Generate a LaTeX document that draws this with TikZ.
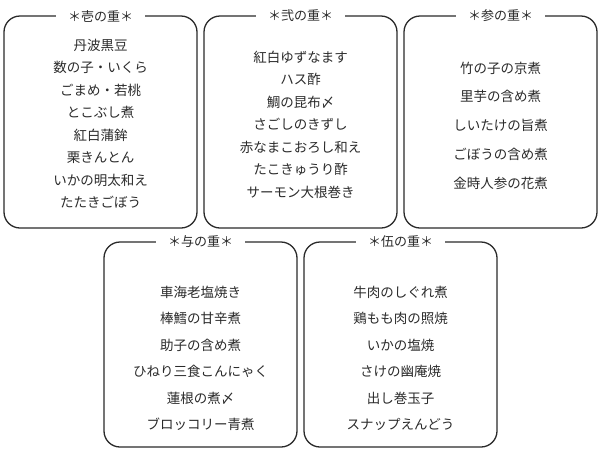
\documentclass[tikz,border=0pt]{standalone}
\usepackage{fontspec}
\newfontfamily\cjk{Noto Sans CJK JP}
\definecolor{ink}{HTML}{2A2A2A}
\begin{document}
\begin{tikzpicture}[x=1pt,y=-1pt,
  box/.style={draw=ink,line width=1.3pt,rounded corners=16pt},
  ttl/.style={fill=white,inner xsep=12pt,inner ysep=1pt,text=ink,font=\cjk\fontsize{13}{15}\selectfont},
  itm/.style={text=ink,font=\cjk\fontsize{13.5}{15}\selectfont,inner sep=0pt}]
\useasboundingbox (0,0) rectangle (600,464);
% box 1
\draw[box] (4,16) rectangle (197,228);
\node[ttl] (t1) at (100.5,16) {＊壱の重＊};
\foreach \t [count=\i from 0] in {丹波黒豆,数の子・いくら,ごまめ・若桃,とこぶし煮,紅白蒲鉾,栗きんとん,いかの明太和え,たたきごぼう}
  \node[itm] (a\i) at (100.5,{45+22.5*\i}) {\t};
% box 2
\draw[box] (204,16) rectangle (397,228);
\node[ttl] (t2) at (300.5,16) {＊弐の重＊};
\foreach \t [count=\i from 0] in {紅白ゆずなます,ハス酢,鯛の昆布〆,さごしのきずし,赤なまこおろし和え,たこきゅうり酢,サーモン大根巻き}
  \node[itm] (b\i) at (300.5,{57+22.5*\i}) {\t};
% box 3
\draw[box] (404,16) rectangle (597,228);
\node[ttl] (t3) at (500.5,16) {＊参の重＊};
\foreach \t [count=\i from 0] in {竹の子の京煮,里芋の含め煮,しいたけの旨煮,ごぼうの含め煮,金時人参の花煮}
  \node[itm] (c\i) at (500.5,{68+28.8*\i}) {\t};
% box 4
\draw[box] (104,242) rectangle (297,447);
\node[ttl] (t4) at (200.5,242) {＊与の重＊};
\foreach \t [count=\i from 0] in {車海老塩焼き,棒鱈の甘辛煮,助子の含め煮,ひねり三食こんにゃく,蓮根の煮〆,ブロッコリー青煮}
  \node[itm] (d\i) at (200.5,{292+26.5*\i}) {\t};
% box 5
\draw[box] (304,242) rectangle (497,447);
\node[ttl] (t5) at (400.5,242) {＊伍の重＊};
\foreach \t [count=\i from 0] in {牛肉のしぐれ煮,鶏もも肉の照焼,いかの塩焼,さけの幽庵焼,出し巻玉子,スナップえんどう}
  \node[itm] (e\i) at (400.5,{292+26.5*\i}) {\t};
\end{tikzpicture}
\end{document}
